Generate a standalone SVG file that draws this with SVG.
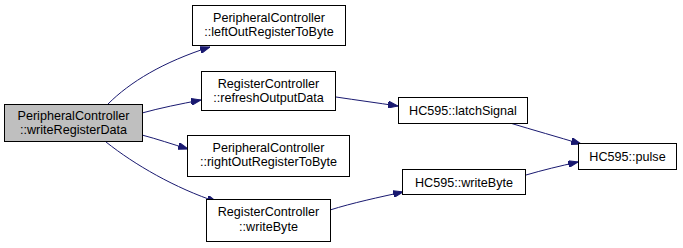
<svg xmlns="http://www.w3.org/2000/svg" width="683" height="248" viewBox="0 0 683 248">
  <style>
    .node rect { fill: #ffffff; stroke: #000000; stroke-width: 1; }
    .node.root rect { fill: #bfbfbf; }
    .node text { font-family: "Liberation Sans", Arial, sans-serif; font-size: 12.6px; fill: #000000; text-anchor: middle; }
    .edge { fill: none; stroke: #191970; stroke-width: 1; }
  </style>
  <defs>
    <marker id="arrow" viewBox="0 0 10 7" refX="10" refY="3.5" markerWidth="10" markerHeight="7" markerUnits="userSpaceOnUse" orient="auto">
      <path d="M0,0 L10,3.5 L0,7 Z" fill="#191970" stroke="#191970"/>
    </marker>
  </defs>
  <rect width="683" height="248" fill="#ffffff"/>

  <!-- call edges -->
  <g id="edges">
    <path class="edge" marker-end="url(#arrow)" d="M108,104 C130,82 163,62 210,47"/>
    <path class="edge" marker-end="url(#arrow)" d="M142,113 C160,108 180,104 201,100"/>
    <path class="edge" marker-end="url(#arrow)" d="M142,135 C157,139 172,144 188,149"/>
    <path class="edge" marker-end="url(#arrow)" d="M106,142 C135,165 175,188 217,202"/>
    <path class="edge" marker-end="url(#arrow)" d="M336,97 C356,100 378,103 398,106"/>
    <path class="edge" marker-end="url(#arrow)" d="M330,210 C352,203 380,197 403,192"/>
    <path class="edge" marker-end="url(#arrow)" d="M510,123 C533,130 558,137 581,144"/>
    <path class="edge" marker-end="url(#arrow)" d="M526,175 C543,170 560,166 578,162"/>
  </g>

  <g id="node-writeRegisterData" class="node root">
    <rect x="4.5" y="104.5" width="138" height="37"/>
    <text x="73.5" y="120">PeripheralController</text>
    <text x="73.5" y="134">::writeRegisterData</text>
  </g>

  <g id="node-leftOutRegisterToByte" class="node">
    <rect x="192.5" y="5.5" width="153" height="40"/>
    <text x="269" y="22">PeripheralController</text>
    <text x="269" y="36">::leftOutRegisterToByte</text>
  </g>

  <g id="node-refreshOutputData" class="node">
    <rect x="201.5" y="71.5" width="134" height="39"/>
    <text x="268.5" y="88">RegisterController</text>
    <text x="268.5" y="102">::refreshOutputData</text>
  </g>

  <g id="node-rightOutRegisterToByte" class="node">
    <rect x="187.5" y="135.5" width="162" height="41"/>
    <text x="268.5" y="152">PeripheralController</text>
    <text x="268.5" y="166">::rightOutRegisterToByte</text>
  </g>

  <g id="node-RegisterController-writeByte" class="node">
    <rect x="206.5" y="199.5" width="124" height="42"/>
    <text x="268.5" y="216">RegisterController</text>
    <text x="268.5" y="231">::writeByte</text>
  </g>

  <g id="node-latchSignal" class="node">
    <rect x="398.5" y="97.5" width="129" height="26"/>
    <text x="463" y="115">HC595::latchSignal</text>
  </g>

  <g id="node-HC595-writeByte" class="node">
    <rect x="402.5" y="169.5" width="123" height="25"/>
    <text x="464" y="186.5">HC595::writeByte</text>
  </g>

  <g id="node-pulse" class="node">
    <rect x="578.5" y="143.5" width="98" height="26"/>
    <text x="627.5" y="161">HC595::pulse</text>
  </g>
</svg>
